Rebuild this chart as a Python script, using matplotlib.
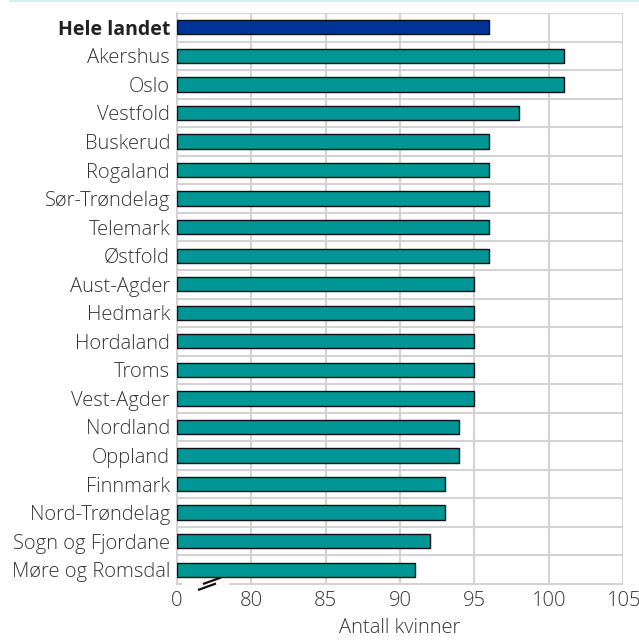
import matplotlib
matplotlib.use("Agg")
import matplotlib.pyplot as plt
from matplotlib.lines import Line2D

plt.rcParams['font.family'] = ['Open Sans', 'DejaVu Sans']

categories = ["Hele landet", "Akershus", "Oslo", "Vestfold", "Buskerud", "Rogaland",
              "Sør-Trøndelag", "Telemark", "Østfold", "Aust-Agder", "Hedmark",
              "Hordaland", "Troms", "Vest-Agder", "Nordland", "Oppland", "Finnmark",
              "Nord-Trøndelag", "Sogn og Fjordane", "Møre og Romsdal"]
values = [96, 101, 101, 98, 96, 96, 96, 96, 96, 95, 95, 95, 95, 95, 94, 94, 93, 93, 92, 91]
tick_values = [75, 80, 85, 90, 95, 100, 105]
tick_labels = ["0", "80", "85", "90", "95", "100", "105"]
axis_start = 75
xlabel = "Antall kvinner"

teal = "#009696"
navy = "#003399"
grid_c = "#d3d3d3"
text_c = "#333333"
fs = 14.5

fig = plt.figure(figsize=(6.39, 6.41), dpi=100)
ax = fig.add_axes([177/639, 1-584/641, 446/639, 571/641])

ypos = list(range(len(categories)))
colors = [navy] + [teal] * (len(categories) - 1)
ax.barh(ypos, [v - axis_start for v in values], left=axis_start, height=0.5,
        color=colors, edgecolor="#111111", linewidth=1.0, zorder=3)

ax.set_xlim(axis_start, 105)
ax.set_ylim(len(categories) - 0.5, -0.5)
ax.set_xticks(tick_values)
ax.set_xticklabels(tick_labels, fontsize=fs, color=text_c, fontweight='light')
ax.set_yticks(ypos)
ax.set_yticklabels(categories, fontsize=fs, color=text_c, fontweight='light')
for lab in ax.get_yticklabels():
    if lab.get_text() == "Hele landet":
        lab.set_fontweight("bold")
        lab.set_fontsize(14)
        lab.set_color("#222222")
ax.set_yticks([k - 0.5 for k in range(len(categories))], minor=True)
ax.tick_params(axis='both', which='both', length=0)
ax.tick_params(axis='y', pad=5)
ax.tick_params(axis='x', pad=5)

ax.grid(axis='x', which='major', color=grid_c, linewidth=1.5, zorder=0)
ax.grid(axis='y', which='minor', color=grid_c, linewidth=1.5, zorder=0)

for s in ['top', 'right', 'bottom']:
    ax.spines[s].set_visible(False)
ax.spines['left'].set_color(grid_c)
ax.spines['left'].set_linewidth(1.5)

# bottom line with break gap
W, H = 446.0, 571.0
ax.plot([0, 5/W], [0, 0], transform=ax.transAxes, color=grid_c, lw=1.5, clip_on=False, solid_capstyle='butt')
ax.plot([52/W, 1], [0, 0], transform=ax.transAxes, color=grid_c, lw=1.5, clip_on=False, solid_capstyle='butt')
# break marks
ax.plot([(198-177)/W, (216-177)/W], [(584-590)/H, (584-583.5)/H], transform=ax.transAxes,
        color="#111111", lw=1.6, clip_on=False, solid_capstyle='butt')
ax.plot([(203-177)/W, (221-177)/W], [(584-584)/H, (584-577.5)/H], transform=ax.transAxes,
        color="#111111", lw=1.6, clip_on=False, solid_capstyle='butt')

ax.set_xlabel(xlabel, fontsize=fs, color=text_c, labelpad=5, fontweight='light')

# thin cyan line at top of figure
fig.add_artist(Line2D([10/639, 1], [1-1/641, 1-1/641], transform=fig.transFigure,
                      color="#d6eef0", lw=1.5))

fig.savefig("out.png", dpi=100)
